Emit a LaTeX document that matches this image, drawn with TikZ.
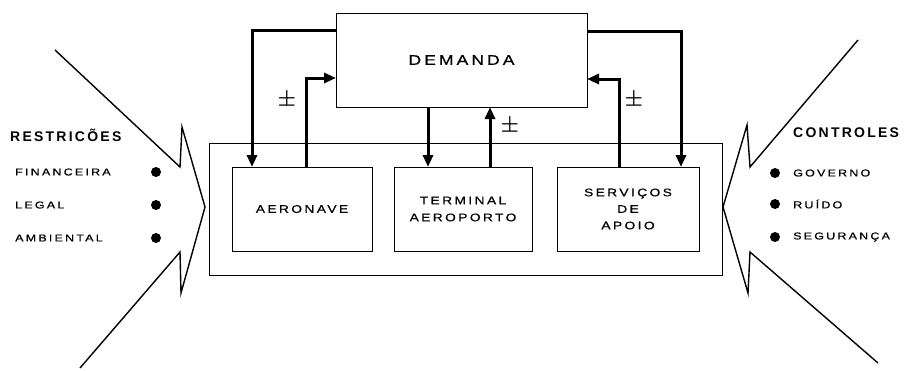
\documentclass[tikz,border=0pt]{standalone}
\usepackage{fontspec}
\usetikzlibrary{arrows.meta,calc}
\newfontfamily\lblfont[LetterSpace=22,FakeStretch=1.25,FakeBold=0.6]{Liberation Sans}
\newfontfamily\hdrfont[LetterSpace=16]{Liberation Sans}
\begin{document}
\begin{tikzpicture}[x=1pt,y=-1pt,
  box/.style={draw,line width=1pt,inner sep=0pt,outer sep=0pt,anchor=north west,align=center},
  thk/.style={line width=3pt,-{Triangle[length=12pt,width=10pt]}},
  zig/.style={line width=1.4pt,line join=miter},
  lbl/.style={inner sep=0pt,anchor=west,font=\lblfont\fontsize{10}{11}\selectfont},
  hdr/.style={inner sep=0pt,anchor=west,font=\hdrfont\bfseries\fontsize{14}{16}\selectfont},
  dot/.style={circle,fill=black,inner sep=0pt,minimum size=10pt},
  pm/.style={inner sep=0pt,font=\boldmath\fontsize{22}{22}\selectfont}]
\useasboundingbox (0,0) rectangle (909,370);
% boxes
\node[box,minimum width=251pt,minimum height=94pt,font=\lblfont\fontsize{14}{15}\selectfont] (dem) at (336,13) {DEMANDA};
\node[box,minimum width=513pt,minimum height=132pt] (sys) at (209,143) {};
\node[box,minimum width=140pt,minimum height=84pt,font=\lblfont\fontsize{11}{17}\selectfont] (aer) at (232,167) {AERONAVE};
\node[box,minimum width=138pt,minimum height=84pt,font=\lblfont\fontsize{11}{17}\selectfont] (ter) at (394,167) {TERMINAL\\AEROPORTO};
\node[box,minimum width=142pt,minimum height=84pt,font=\lblfont\fontsize{11}{16.5}\selectfont] (ser) at (557,167) {SERVIÇOS\\DE\\APOIO};
% connector coordinates
\coordinate (lo1) at ($(dem.north west)+(0,17)$);
\coordinate (lo2) at ($(aer.north west)+(20,0)$);
\coordinate (lr1) at ($(aer.north west)+(74,0)$);
\coordinate (lr2) at ($(dem.north west)+(0,65)$);
\coordinate (md) at ($(ter.north west)+(34,0)$);
\coordinate (mu) at ($(ter.north west)+(96,0)$);
\coordinate (ro1) at ($(dem.north east)+(0,18)$);
\coordinate (ro2) at ($(ser.north west)+(124,0)$);
\coordinate (rr1) at ($(ser.north west)+(62,0)$);
\coordinate (rr2) at ($(dem.north east)+(0,66)$);
% connectors
\draw[thk] (lo1) -| (lo2);
\draw[thk] (lr1) |- (lr2);
\draw[thk] (dem.south -| md) -- (md);
\draw[thk] (mu) -- (dem.south -| mu);
\draw[thk] (ro1) -| (ro2);
\draw[thk] (rr1) |- (rr2);
% plus-minus labels
\node[pm] (pm1) at (287,100) {$\pm$};
\node[pm] (pm2) at (510,126) {$\pm$};
\node[pm] (pm3) at (634,100) {$\pm$};
% zigzag arrows
\draw[zig] (55,50) -- (180,167) -- (182,127) -- (205,207) -- (181,293) -- (180,252) -- (80,368);
\draw[zig] (858,40) -- (750,167) -- (747,125) -- (723,207) -- (748,293) -- (750,252) -- (878,363);
% left labels
\node[hdr] (rest) at (10,135) {RESTRICÕES};
\node[lbl] (fin) at (15,172) {FINANCEIRA};
\node[lbl] (leg) at (15,205) {LEGAL};
\node[lbl] (amb) at (15,238) {AMBIENTAL};
\node[dot] (d1) at (156,172) {};
\node[dot] (d2) at (156,205) {};
\node[dot] (d3) at (156,238) {};
% right labels
\node[hdr] (cont) at (793,133) {CONTROLES};
\node[lbl] (gov) at (793,173) {GOVERNO};
\node[lbl] (rui) at (793,204) {RUÍDO};
\node[lbl] (seg) at (793,237) {SEGURANÇA};
\node[dot] (d4) at (775,173) {};
\node[dot] (d5) at (775,204) {};
\node[dot] (d6) at (775,237) {};
\end{tikzpicture}
\end{document}
